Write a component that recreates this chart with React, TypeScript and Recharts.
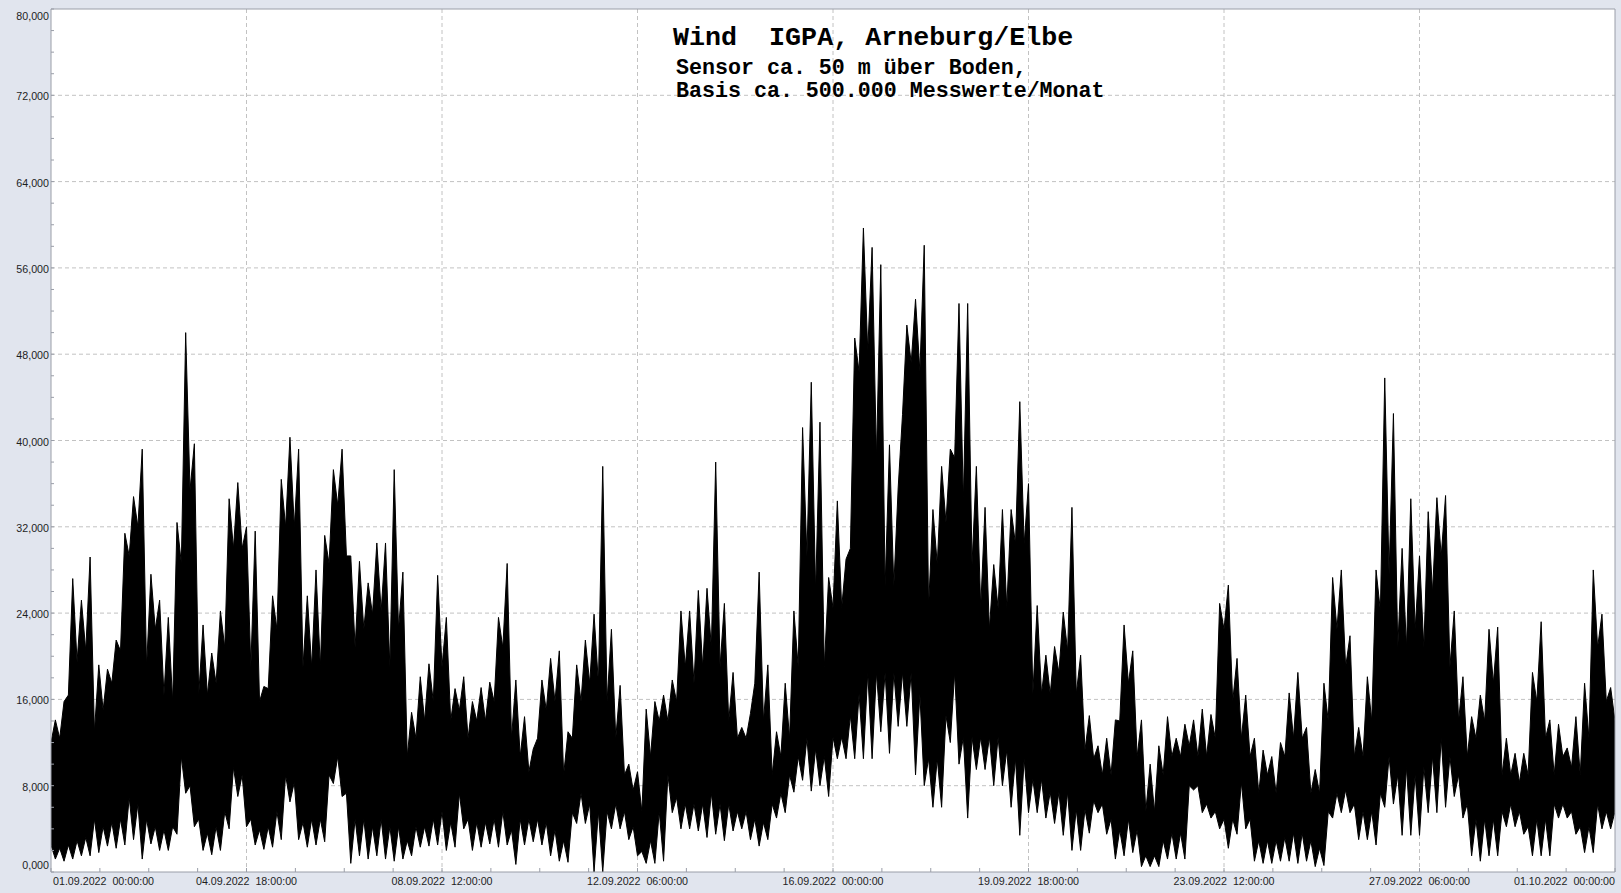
import React from 'react';
import { ComposedChart, Area, XAxis, YAxis, CartesianGrid } from 'recharts';

// Bin boundaries (hours since 01.09.2022 00:00) – typical level of the dense band
const BOUNDARY_HOURS = [
  0, 4, 8, 12, 16, 20, 24, 28, 32, 36, 40, 44, 48, 52, 56, 60, 64, 68, 72, 76, 80, 84, 88, 92, 96, 100, 104, 108, 112, 116,
  120, 124, 128, 132, 136, 140, 144, 148, 152, 156, 160, 164, 168, 172, 176, 180, 184, 188, 192, 196, 200, 204, 208, 212, 216, 220, 224, 228, 232, 236,
  240, 244, 248, 252, 256, 260, 264, 268, 272, 276, 280, 284, 288, 292, 296, 300, 304, 308, 312, 316, 320, 324, 328, 332, 336, 340, 344, 348, 352, 356,
  360, 364, 368, 372, 376, 380, 384, 388, 392, 396, 400, 404, 408, 412, 416, 420, 424, 428, 432, 436, 440, 444, 448, 452, 456, 460, 464, 468, 472, 476,
  480, 484, 488, 492, 496, 500, 504, 508, 512, 516, 520, 524, 528, 532, 536, 540, 544, 548, 552, 556, 560, 564, 568, 572, 576, 580, 584, 588, 592, 596,
  600, 604, 608, 612, 616, 620, 624, 628, 632, 636, 640, 644, 648, 652, 656, 660, 664, 668, 672, 676, 680, 684, 688, 692, 696, 700, 704, 708, 712, 716,
  720,
];
const CORE_HI = [
  12, 12.4, 16.4, 19.5, 20.5, 13, 15, 17.5, 20.5, 29.3, 32, 19, 22.5, 16.4, 15.8, 28.6, 35.4, 16.4, 16.4, 17.5, 20.8, 30, 30, 19, 15.8, 17, 22.5, 32, 32, 19,
  19, 19, 28.6, 34, 29.3, 20.8, 22.5, 23.9, 24.2, 19, 22.5, 10.7, 12.4, 14, 15.8, 19, 14, 15, 12.4, 14, 14, 15.8, 20.8, 12.4, 10.7, 9.3, 12.4, 15, 15.8, 9,
  12.4, 15.8, 17.5, 17.5, 15.8, 12.4, 9, 7.6, 5.6, 10.7, 14, 14, 15.8, 19, 17.5, 19, 20.8, 19, 14, 12.4, 12.4, 17.5, 14, 9, 10.7, 12.4, 19, 29.3, 26, 19,
  24.5, 24.5, 30, 46.4, 48.3, 38.4, 26.5, 26.5, 42.4, 47.2, 46.4, 24.5, 28.5, 32.4, 38.4, 34.4, 28.5, 24.5, 22.5, 24.5, 24.5, 30.4, 30.4, 16.5, 16.5, 16.5, 18.5, 20.5, 16.5, 11.3,
  10.5, 9, 9, 14, 17.5, 10.7, 5.6, 5.6, 9, 10.7, 10.7, 11.7, 10.7, 10.7, 12.4, 22.5, 15.8, 12.4, 10.7, 7.3, 9, 7.3, 10.7, 12.4, 12.4, 7.3, 7.3, 14, 22.5, 19,
  10.7, 10.7, 14, 24.2, 27.6, 20.8, 20.8, 22.5, 20.8, 25.9, 29.3, 19, 14, 10.7, 12.4, 14, 17.5, 9, 9, 8.3, 9, 15.8, 12.4, 9, 10.7, 9.7, 9, 12.4, 20.8, 15.8,
  14,
];
const CORE_LO = [
  2.5, 2.2, 2.5, 2.9, 3.2, 4.9, 4.2, 4.6, 4.9, 6.9, 6.3, 4.9, 4.2, 3.9, 4.2, 10.7, 8, 4.9, 3.6, 4.2, 5.6, 9.7, 9, 4.9, 3.9, 4.2, 5.6, 9, 8.3, 4.6,
  4.9, 4.9, 9, 10.7, 7.3, 4.9, 4.9, 4.2, 4.9, 4.2, 4.2, 2.9, 4.2, 4.2, 4.9, 5.6, 4.6, 7.3, 4.9, 4.6, 4.6, 4.9, 5.6, 3.9, 4.9, 4.9, 4.9, 4.6, 3.9, 2.9,
  5.5, 7.3, 6.3, 5.6, 5.6, 6.3, 5.6, 4.2, 1.9, 2.9, 5.6, 9, 6.9, 6.3, 6.3, 6.3, 7.3, 6.3, 6.3, 5.6, 5.6, 4.9, 4.6, 6.3, 7.3, 9, 10.7, 12.4, 11.4, 10.7,
  12.5, 12.5, 14.5, 16.5, 18.5, 18.5, 18.5, 18.5, 18.5, 18.5, 16.5, 10.5, 10.5, 14.5, 18.5, 12.5, 12.5, 12.5, 12.5, 12.5, 11.3, 10.5, 10.5, 8.6, 8.6, 7.4, 7.4, 7.4, 5.8, 5.8,
  6.6, 6.3, 4.9, 3.9, 4.9, 3.9, 1.5, 1.5, 2.9, 3.6, 3.6, 8, 8, 6.3, 5.6, 4.9, 4.9, 8.3, 4.9, 2.9, 2.9, 2.9, 3.2, 3.6, 3.6, 2.9, 2.2, 5.6, 7.3, 7.6,
  6.3, 5.6, 5.6, 7.3, 10.7, 9, 9.7, 9, 9.7, 10.7, 12.4, 10.7, 9, 6.3, 4.9, 4.9, 4.9, 5.6, 6.3, 5.6, 4.2, 4.9, 4.9, 6.3, 6.3, 5.6, 4.2, 4.2, 6.3, 5.6,
  5.6,
];

// Bin centres – extreme spike values inside each 4 h bin
const CENTER_HOURS = [
  2, 6, 10, 14, 18, 22, 26, 30, 34, 38, 42, 46, 50, 54, 58, 62, 66, 70, 74, 78, 82, 86, 90, 94, 98, 102, 106, 110, 114, 118,
  122, 126, 130, 134, 138, 142, 146, 150, 154, 158, 162, 166, 170, 174, 178, 182, 186, 190, 194, 198, 202, 206, 210, 214, 218, 222, 226, 230, 234, 238,
  242, 246, 250, 254, 258, 262, 266, 270, 274, 278, 282, 286, 290, 294, 298, 302, 306, 310, 314, 318, 322, 326, 330, 334, 338, 342, 346, 350, 354, 358,
  362, 366, 370, 374, 378, 382, 386, 390, 394, 398, 402, 406, 410, 414, 418, 422, 426, 430, 434, 438, 442, 446, 450, 454, 458, 462, 466, 470, 474, 478,
  482, 486, 490, 494, 498, 502, 506, 510, 514, 518, 522, 526, 530, 534, 538, 542, 546, 550, 554, 558, 562, 566, 570, 574, 578, 582, 586, 590, 594, 598,
  602, 606, 610, 614, 618, 622, 626, 630, 634, 638, 642, 646, 650, 654, 658, 662, 666, 670, 674, 678, 682, 686, 690, 694, 698, 702, 706, 710, 714, 718,
];
const PEAK_HI = [
  14.1, 15.8, 27.2, 25.2, 29.2, 19.2, 18.8, 21.5, 31.4, 34.8, 39.2, 27.6, 25.2, 23.6, 32.4, 50.0, 39.7, 22.9, 20.3, 24.2, 34.6, 36.1, 32.0, 31.6, 17.2, 25.6, 36.4, 40.3, 39.2, 25.6,
  28.0, 31.2, 37.3, 39.2, 29.3, 28.8, 26.8, 30.5, 30.5, 37.3, 27.8, 14.8, 18.1, 19.3, 27.5, 23.6, 17.0, 18.1, 15.8, 17.1, 17.6, 23.6, 28.6, 17.8, 14.4, 11.4, 17.8, 19.8, 20.5, 13.0,
  19.2, 21.5, 23.9, 37.6, 22.5, 17.3, 10.0, 9.3, 15.1, 15.8, 16.4, 17.8, 24.2, 24.2, 26.1, 26.3, 38.0, 24.9, 18.5, 13.4, 14.7, 27.8, 19.2, 13.0, 17.5, 24.2, 41.2, 45.4, 41.7, 27.3,
  34.4, 29.0, 49.5, 59.7, 57.9, 56.3, 39.6, 35.6, 50.7, 53.1, 58.1, 33.6, 37.6, 39.2, 52.7, 52.7, 37.6, 33.8, 28.5, 33.6, 33.6, 43.6, 36.0, 24.7, 20.1, 20.9, 24.1, 33.8, 20.1, 14.5,
  11.7, 12.4, 14.1, 22.9, 20.5, 14.1, 10.0, 11.7, 14.4, 12.4, 13.7, 14.1, 15.1, 14.6, 24.9, 26.6, 19.8, 16.4, 12.4, 11.3, 10.7, 12.0, 16.6, 18.5, 13.4, 9.5, 17.5, 27.3, 28.0, 21.9,
  13.4, 18.1, 28.0, 45.8, 42.5, 30.0, 34.6, 29.3, 33.4, 34.7, 34.9, 24.2, 18.1, 14.4, 16.4, 22.5, 22.7, 12.4, 11.0, 11.0, 18.5, 23.2, 14.1, 13.7, 11.5, 14.4, 17.5, 28.0, 23.9, 17.1,
];
const PEAK_LO = [
  1.2, 1.0, 1.2, 1.5, 1.5, 1.8, 2.4, 2.2, 2.5, 3.0, 1.2, 2.6, 2.0, 2.0, 3.5, 7.3, 4.2, 2.0, 1.6, 2.0, 4.0, 7.0, 4.2, 2.5, 2.1, 2.3, 3.0, 6.5, 3.0, 2.3,
  2.5, 2.8, 8.2, 7.0, 0.8, 1.5, 1.2, 1.5, 1.2, 1.0, 1.2, 1.5, 2.3, 2.4, 2.5, 2.0, 2.3, 4.0, 2.0, 2.3, 2.6, 2.3, 2.5, 0.7, 2.5, 2.8, 2.5, 1.5, 1.0, 0.9,
  4.5, 4.5, 0.0, 0.0, 4.0, 4.0, 3.0, 1.5, 0.8, 0.8, 1.0, 5.5, 4.0, 4.0, 3.8, 3.2, 3.5, 2.9, 3.8, 4.0, 3.0, 2.4, 3.0, 5.0, 5.5, 7.4, 8.5, 7.5, 8.0, 7.0,
  10.5, 10.5, 10.5, 10.5, 10.5, 13.0, 11.0, 13.5, 13.5, 9.0, 8.0, 6.0, 6.0, 12.0, 10.0, 5.0, 9.5, 9.5, 8.0, 8.0, 6.0, 3.4, 5.5, 5.5, 5.0, 4.5, 3.4, 2.0, 2.0, 3.6,
  5.5, 3.5, 1.2, 1.5, 1.8, 0.5, 0.5, 0.5, 1.2, 1.2, 1.2, 7.6, 5.5, 5.0, 4.0, 2.2, 3.5, 4.0, 1.0, 0.8, 0.8, 1.0, 1.0, 0.8, 1.0, 0.5, 0.6, 5.0, 5.5, 5.5,
  3.0, 3.0, 2.5, 6.0, 6.3, 3.4, 3.4, 3.4, 5.5, 5.5, 6.0, 7.0, 5.0, 1.5, 1.0, 1.5, 1.5, 4.2, 4.2, 3.5, 1.5, 1.5, 1.5, 5.0, 5.0, 3.5, 1.8, 1.8, 4.0, 4.0,
];

const Y_TICKS = [0, 2, 4, 6, 8, 10, 12, 14, 16, 18, 20, 22, 24, 26, 28, 30, 32, 34, 36, 38, 40, 42, 44, 46, 48, 50, 52, 54, 56, 58, 60, 62, 64, 66, 68, 70, 72, 74, 76, 78, 80];
const Y_GRID = [8, 16, 24, 32, 40, 48, 56, 64, 72];
const X_TICKS = [0, 22.5, 45, 67.5, 90, 112.5, 135, 157.5, 180, 202.5, 225, 247.5, 270, 292.5, 315, 337.5, 360, 382.5, 405, 427.5, 450, 472.5, 495, 517.5, 540, 562.5, 585, 607.5, 630, 652.5, 675, 697.5, 720];
const X_GRID = [90, 180, 270, 360, 450, 540, 630];
const X_LABELS: Record<string, string> = {
  '0': '01.09.2022  00:00:00',
  '90': '04.09.2022  18:00:00',
  '180': '08.09.2022  12:00:00',
  '270': '12.09.2022  06:00:00',
  '360': '16.09.2022  00:00:00',
  '450': '19.09.2022  18:00:00',
  '540': '23.09.2022  12:00:00',
  '630': '27.09.2022  06:00:00',
  '720': '01.10.2022  00:00:00',
};

const TITLE = 'Wind  IGPA, Arneburg/Elbe';
const SUB1 = 'Sensor ca. 50 m über Boden,';
const SUB2 = 'Basis ca. 500.000 Messwerte/Monat';

const data: { h: number; range: number[] }[] = [];
BOUNDARY_HOURS.forEach((h, i) => {
  data.push({ h, range: [CORE_LO[i], CORE_HI[i]] });
  if (i < CENTER_HOURS.length) {
    data.push({ h: CENTER_HOURS[i], range: [PEAK_LO[i], PEAK_HI[i]] });
  }
});

const AXIS_COLOR = '#9a9ea8';
const LABEL_FONT = '"Liberation Sans", Arial, sans-serif';
const MONO_FONT = '"Liberation Mono", "Courier New", monospace';

const XTick = (props: any) => {
  const { x, y, payload } = props;
  const v = payload.value;
  const label = X_LABELS[String(v)];
  let anchor: 'start' | 'middle' | 'end' = 'middle';
  let tx = x;
  if (v === 0) { anchor = 'start'; tx = x + 2; }
  if (v === 720) { anchor = 'end'; tx = x; }
  return (
    <g>
      <line x1={x} x2={x} y1={y} y2={y - 4} stroke={AXIS_COLOR} />
      {label && (
        <text x={tx} y={y + 12.5} textAnchor={anchor} fontSize={10.7} fontFamily={LABEL_FONT} fill="#1e1e1e" style={{ whiteSpace: 'pre' }}>
          {label}
        </text>
      )}
    </g>
  );
};

const YTick = (props: any) => {
  const { x, y, payload } = props;
  const v = payload.value;
  const major = v % 8 === 0;
  const cy = Math.min(Math.max(y + 1, 16), 865);
  return (
    <g>
      <line x1={x} x2={x + 3} y1={y} y2={y} stroke={AXIS_COLOR} />
      {major && (
        <text x={x - 2} y={cy + 4} textAnchor="end" fontSize={10.7} fontFamily={LABEL_FONT} fill="#1e1e1e">
          {v.toFixed(3).replace('.', ',')}
        </text>
      )}
    </g>
  );
};

const RTick = (props: any) => {
  const { x, y } = props;
  return (
    <text x={x + 2.5} y={y + 4} textAnchor="start" fontSize={10.7} fontFamily={LABEL_FONT} fill="#1e1e1e">
      60,000
    </text>
  );
};

export default function App() {
  return (
    <div style={{ position: 'absolute', left: 0, top: 0, width: 1621, height: 893, background: '#e1e5ee', overflow: 'hidden' }}>
      <ComposedChart width={1621} height={893} data={data} margin={{ top: 0, right: 0, bottom: 0, left: 0 }}>
        <CartesianGrid
          xAxisId="b"
          yAxisId="l"
          fill="#ffffff"
          stroke="#c2c2c2"
          strokeDasharray="4 3"
          horizontalValues={Y_GRID}
          verticalValues={X_GRID}
        />
        <XAxis
          xAxisId="b"
          dataKey="h"
          type="number"
          domain={[0, 720]}
          ticks={X_TICKS}
          interval={0}
          height={21}
          tickSize={0}
          tickMargin={0}
          tickLine={false}
          axisLine={{ stroke: AXIS_COLOR }}
          tick={<XTick />}
          allowDataOverflow
        />
        <XAxis
          xAxisId="t"
          orientation="top"
          dataKey="h"
          type="number"
          domain={[0, 720]}
          height={9}
          tick={false}
          tickLine={false}
          axisLine={{ stroke: AXIS_COLOR }}
        />
        <YAxis
          yAxisId="l"
          type="number"
          domain={[0, 80]}
          ticks={Y_TICKS}
          interval={0}
          width={51}
          tickSize={0}
          tickMargin={0}
          tickLine={false}
          axisLine={{ stroke: AXIS_COLOR }}
          tick={<YTick />}
          allowDataOverflow
        />
        <YAxis
          yAxisId="r"
          orientation="right"
          type="number"
          domain={[0, 80]}
          ticks={[40]}
          width={6}
          tickSize={0}
          tickMargin={0}
          tickLine={false}
          axisLine={{ stroke: AXIS_COLOR }}
          tick={<RTick />}
        />
        <Area
          xAxisId="b"
          yAxisId="l"
          type="linear"
          dataKey="range"
          stroke="#000000"
          strokeWidth={1}
          fill="#000000"
          fillOpacity={1}
          isAnimationActive={false}
          dot={false}
          activeDot={false}
        />
      </ComposedChart>
      <svg width={1621} height={893} style={{ position: 'absolute', left: 0, top: 0, pointerEvents: 'none' }}>
        <text x={673} y={45} fontSize={26.7} fontWeight="bold" fontFamily={MONO_FONT} fill="#000" style={{ whiteSpace: 'pre' }}>
          {TITLE}
        </text>
        <text x={676} y={74} fontSize={21.65} fontWeight="bold" fontFamily={MONO_FONT} fill="#000" style={{ whiteSpace: 'pre' }}>
          {SUB1}
        </text>
        <text x={676} y={96.5} fontSize={21.65} fontWeight="bold" fontFamily={MONO_FONT} fill="#000" style={{ whiteSpace: 'pre' }}>
          {SUB2}
        </text>
      </svg>
    </div>
  );
}
